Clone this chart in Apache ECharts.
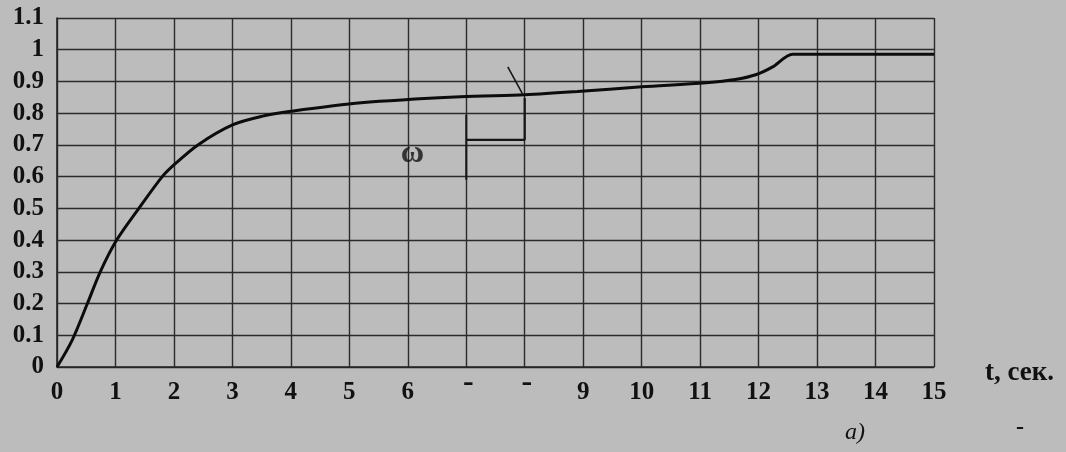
<!DOCTYPE html>
<html>
<head>
<meta charset="utf-8">
<script src="https://cdn.jsdelivr.net/npm/echarts@6/dist/echarts.min.js"></script>
<style>
  html, body { margin: 0; padding: 0; background: #bcbcbc; }
  #chart { width: 1066px; height: 452px; }
</style>
</head>
<body>
<div id="chart"></div>
<script>
// curve omega(t)
var tValues = [0, 0.26, 0.52, 0.74, 1.02, 1.4, 1.8, 2.0, 2.41, 3.0, 3.5, 4.0, 5.2, 6.9, 8.0, 8.9, 10.0, 11.1, 11.6, 11.95, 12.24, 12.58, 13.0, 15.0];
var omegaValues = [0, 0.085, 0.2, 0.3, 0.4, 0.5, 0.6, 0.637, 0.7, 0.763, 0.79, 0.806, 0.833, 0.852, 0.858, 0.868, 0.883, 0.896, 0.906, 0.921, 0.946, 0.986, 0.986, 0.986];

// tick labels (7 and 8 are printed as dashes in the original)
var xTickLabels = ['0', '1', '2', '3', '4', '5', '6', '-', '-', '9', '10', '11', '12', '13', '14', '15'];
var yTickLabels = ['0', '0.1', '0.2', '0.3', '0.4', '0.5', '0.6', '0.7', '0.8', '0.9', '1', '1.1'];

// bracket drawn near the curve
var bracketLeft = [[7, 0.795], [7, 0.59]];
var bracketStep = [[7, 0.716], [8, 0.716], [8, 0.848]];
var bracketTick = [[7.71, 0.946], [7.96, 0.862]];
var omegaLabel = [[6.08, 0.672]];

var serif = '"Liberation Serif", "DejaVu Serif", serif';

var dom = document.getElementById('chart');
var myChart = echarts.init(dom);

function pairs(xs, ys) {
    var out = [];
    for (var i = 0; i < xs.length; i++) out.push([xs[i], ys[i]]);
    return out;
}

function plainLine(data, width) {
    return {
        type: 'line',
        data: data,
        symbol: 'none',
        silent: true,
        lineStyle: { color: '#161616', width: width },
        z: 4
    };
}

var option = {
    backgroundColor: '#bcbcbc',
    animation: false,
    grid: { left: 57, right: 132, top: 18, bottom: 85 },
    xAxis: {
        type: 'value',
        min: 0,
        max: 15,
        interval: 1,
        axisLine: { show: true, lineStyle: { color: '#262626', width: 1.6 } },
        axisTick: { show: false },
        splitLine: { show: true, lineStyle: { color: '#2b2b2b', width: 1.4 } },
        axisLabel: {
            margin: 13,
            color: '#111',
            fontFamily: serif,
            fontWeight: 'bold',
            fontSize: 25,
            formatter: function (v) {
                var s = xTickLabels[Math.round(v)];
                return s === '-' ? '{d|-}' : s;
            },
            rich: {
                d: { fontFamily: serif, fontWeight: 'bold', fontSize: 32, color: '#111', lineHeight: 6, padding: [0, 0, 0, 4] }
            }
        }
    },
    yAxis: {
        type: 'value',
        min: 0,
        max: 1.1,
        interval: 0.1,
        axisLine: { show: true, lineStyle: { color: '#262626', width: 1.6 } },
        axisTick: { show: false },
        splitLine: { show: true, lineStyle: { color: '#2b2b2b', width: 1.4 } },
        axisLabel: {
            margin: 13,
            color: '#111',
            fontFamily: serif,
            fontWeight: 'bold',
            fontSize: 25,
            formatter: function (v) { return yTickLabels[Math.round(v * 10)]; }
        }
    },
    graphic: [
        { type: 'text', left: 985, top: 360, style: { text: 't, сек.', font: 'bold 27px ' + serif, fill: '#111' } },
        { type: 'text', left: 845, top: 421, style: { text: 'a)', font: 'italic 24px ' + serif, fill: '#111' } },
        { type: 'text', left: 1016, top: 416, style: { text: '-', font: 'bold 24px ' + serif, fill: '#111' } }
    ],
    series: [
        {
            type: 'line',
            data: pairs(tValues, omegaValues),
            symbol: 'none',
            smooth: 0.3,
            silent: true,
            lineStyle: { color: '#0c0c0c', width: 3 },
            z: 5
        },
        plainLine(bracketLeft, 2),
        plainLine(bracketStep, 2.2),
        plainLine(bracketTick, 1.6),
        {
            type: 'scatter',
            data: omegaLabel,
            symbolSize: 1,
            itemStyle: { color: 'rgba(0,0,0,0)' },
            silent: true,
            z: 6,
            label: {
                show: true,
                position: 'inside',
                formatter: 'ω',
                color: '#111',
                fontFamily: serif,
                fontWeight: 'bold',
                fontSize: 32
            }
        }
    ]
};

if (option && typeof option === 'object') {
    myChart.setOption(option, true);
}
</script>
</body>
</html>
